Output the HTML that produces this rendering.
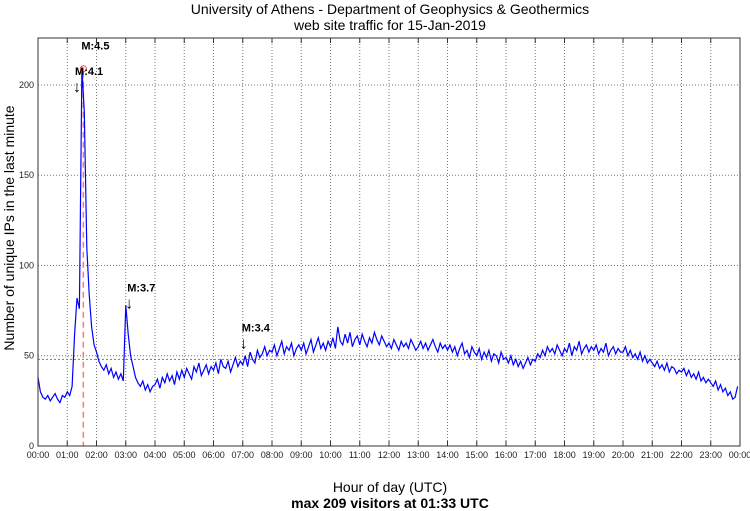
<!DOCTYPE html>
<html><head><meta charset="utf-8"><style>
body{margin:0;background:#fff;}
svg{display:block;font-family:"Liberation Sans",sans-serif;}
</style></head><body>
<svg id="chart" width="750" height="511">
<text x="390" y="14" text-anchor="middle" font-size="14">University of Athens - Department of Geophysics &amp; Geothermics</text>
<text x="390" y="30" text-anchor="middle" font-size="14">web site traffic for 15-Jan-2019</text>
<text transform="translate(14,228) rotate(-90)" text-anchor="middle" font-size="14">Number of unique IPs in the last minute</text>
<text x="390" y="492" text-anchor="middle" font-size="14">Hour of day (UTC)</text>
<text x="390" y="508" text-anchor="middle" font-size="14" font-weight="bold">max 209 visitors at 01:33 UTC</text>
<g id="grid"></g><g id="series"></g><g id="axes"></g><g id="ann"></g>
</svg>
<script>
const yTicks=[0,50,100,150,200];
const hourLabels=["00:00","01:00","02:00","03:00","04:00","05:00","06:00","07:00","08:00","09:00","10:00","11:00","12:00","13:00","14:00","15:00","16:00","17:00","18:00","19:00","20:00","21:00","22:00","23:00","00:00"];
const meanValue=48;
const peakMinute=93, peakValue=209;
const quakeLabels=["M:4.5","M:4.1","M:3.7","M:3.4"];
const quakeMinutes=[93,76,183,418];
const quakeValues=[209,200,80,58];
const visitors=[
38,30,27,26,28,25,27,29,26,24,28,27,
30,28,33,62,82,76,209,185,110,84,66,56,
52,47,44,42,45,40,43,38,41,37,40,36,
78,62,50,44,38,35,33,36,31,34,30,33,
34,37,32,38,35,40,36,39,34,41,37,42,
38,43,40,37,44,41,46,39,42,45,40,44,
42,46,40,48,44,43,47,41,45,49,44,47,
45,50,44,52,48,46,53,49,51,55,50,53,
52,56,50,54,58,51,55,53,57,50,54,56,
53,57,51,55,59,52,56,60,54,57,53,58,
55,60,54,66,58,56,62,57,63,55,59,61,
56,62,58,55,60,57,63,59,56,61,58,55,
57,54,59,56,53,58,55,57,54,59,56,53,
55,58,54,57,53,56,59,55,52,57,54,56,
53,56,52,55,50,54,57,51,53,49,55,52,
50,54,48,52,49,53,47,51,50,46,52,48,
49,46,50,45,48,44,47,43,46,49,45,48,
47,51,49,53,50,55,52,54,51,56,53,50,
54,52,57,50,55,53,58,51,54,56,52,55,
53,56,51,54,52,57,50,53,55,51,54,52,
52,55,50,53,49,51,48,52,47,50,46,48,
46,44,47,43,45,42,46,41,44,43,40,42,
41,43,39,42,38,40,37,41,36,38,35,37,
35,33,36,31,34,30,32,28,30,26,27,33];
const stepMinutes=5;
const L=38,R=740,T=38,B=446,YMAX=226;
const xs=m=>L+(R-L)*m/1440;
const ys=v=>B-(B-T)*v/YMAX;
const NS="http://www.w3.org/2000/svg";
function mk(tag,parent,attrs){const e=document.createElementNS(NS,tag);for(const k in attrs)e.setAttribute(k,attrs[k]);document.getElementById(parent).appendChild(e);return e;}
hourLabels.forEach((h,i)=>{const x=xs(i*60);
 if(i>0&&i<24){const g=mk('line','grid',{x1:x,x2:x,y1:T,y2:B,stroke:'#777','stroke-dasharray':'1,2','stroke-width':1});
 
 }
 const t=mk('line','axes',{x1:x,x2:x,y1:B,y2:B-5,stroke:'#333'});
 
 
 const tt=mk('line','axes',{x1:x,x2:x,y1:T,y2:T+5,stroke:'#333'});
 
 
 const lb=mk('text','axes',{x:x,y:B+12,'text-anchor':'middle','font-size':9,fill:'#222'});
 lb.textContent=h;
 
 
});
yTicks.forEach(v=>{const y=ys(v);
 if(v>0){const g=mk('line','grid',{x1:L,x2:R,y1:y,y2:y,stroke:'#777','stroke-dasharray':'1,2'});
 
 }
 const lb=mk('text','axes',{x:L-4,y:y+3,'text-anchor':'end','font-size':9,fill:'#222'});
 lb.textContent=v;
 
 
});
const mean=mk('line','grid',{x1:L,x2:R,y1:ys(meanValue),y2:ys(meanValue),stroke:'#777','stroke-dasharray':'2,2'});


const frame=mk('rect','axes',{x:L,y:T,width:R-L,height:B-T,fill:'none',stroke:'#333'});


const red=mk('line','series',{x1:xs(peakMinute),x2:xs(peakMinute),y1:ys(peakValue)+3,y2:B,stroke:'#f77','stroke-width':1.5,'stroke-dasharray':'6,4'});


const pts=visitors.map((v,i)=>xs(i*stepMinutes).toFixed(1)+','+ys(v).toFixed(1)).join(' ');
const pl=mk('polyline','series',{points:pts,fill:'none',stroke:'#00f','stroke-width':1.2});


const c=mk('circle','series',{cx:xs(peakMinute),cy:ys(peakValue),r:3,fill:'none',stroke:'#f44'});


quakeLabels.forEach((lab,i)=>{
 const x=xs(quakeMinutes[i]), y=ys(quakeValues[i]);
 const ty = i===0 ? y-19 : y-10;
 const t=mk('text','ann',{x:i===0?x-2:x,y:ty,'font-size':11,'font-weight':'bold'});
 t.textContent=lab;
 
 
 if(i>0){const a=mk('text','ann',{x:x-2,y:ty+17,'font-size':16});
 a.textContent='↓';
 
 }
});
</script>
</body></html>
